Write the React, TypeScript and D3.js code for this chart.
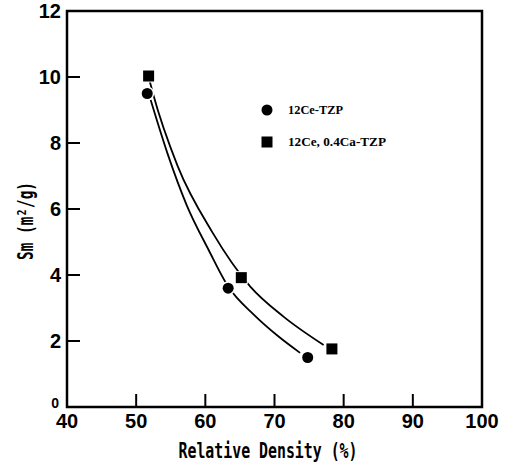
import React from 'react';
import * as d3 from 'd3';

// measured points
const ceDensity = [51.6, 63.3, 74.8];
const ceArea = [9.5, 3.6, 1.5];
const caDensity = [51.8, 65.2, 78.3];
const caArea = [10.03, 3.92, 1.76];

// fitted curves
const ceFitDensity = [52.1, 54.5, 57.3, 60.5, 63.3, 67.0, 70.5, 73.7];
const ceFitArea = [9.3, 7.7, 6.12, 4.75, 3.65, 2.8, 2.15, 1.64];
const caFitDensity = [51.8, 52.4, 56.0, 61.0, 66.5, 71.3, 77.1];
const caFitArea = [10.0, 9.52, 7.3, 5.3, 3.65, 2.74, 1.88];

const xTicks = [40, 50, 60, 70, 80, 90, 100];
const yTicks = [0, 2, 4, 6, 8, 10, 12];
const legendLabels = ['12Ce-TZP', '12Ce, 0.4Ca-TZP'];

const width = 505;
const height = 464;
const marginLeft = 67;
const marginRight = 23;
const marginTop = 11;
const marginBottom = 57;

export default function App() {
  const x = d3.scaleLinear().domain([40, 100]).range([marginLeft, width - marginRight]);
  const y = d3.scaleLinear().domain([0, 12]).range([height - marginBottom, marginTop]);

  const line = d3.line<[number, number]>()
    .x(d => x(d[0]))
    .y(d => y(d[1]))
    .curve(d3.curveMonotoneX);

  const ceFit = ceFitDensity.map((d, i) => [d, ceFitArea[i]] as [number, number]);
  const caFit = caFitDensity.map((d, i) => [d, caFitArea[i]] as [number, number]);

  const bottom = height - marginBottom;
  const tickFont = "'Liberation Sans', Arial, sans-serif";

  return (
    <svg width={width} height={height} style={{ position: 'absolute', left: 0, top: 0, background: '#fff' }}>
      {/* fitted curves */}
      <path d={line(ceFit) ?? ''} fill="none" stroke="#000" strokeWidth={1.8} />
      <path d={line(caFit) ?? ''} fill="none" stroke="#000" strokeWidth={1.8} />

      {/* markers with white halo to leave small gaps */}
      {ceDensity.map((d, i) => (
        <circle key={'c' + i} cx={x(d)} cy={y(ceArea[i])} r={5.5} fill="#000" stroke="#fff" strokeWidth={3} paintOrder="stroke" />
      ))}
      {caDensity.map((d, i) => (
        <rect key={'s' + i} x={x(d) - 5.5} y={y(caArea[i]) - 5.5} width={11} height={11} fill="#000" stroke="#fff" strokeWidth={2} paintOrder="stroke" />
      ))}

      {/* frame */}
      <rect x={marginLeft} y={marginTop} width={width - marginLeft - marginRight} height={bottom - marginTop}
        fill="none" stroke="#000" strokeWidth={2.5} />

      {/* x ticks */}
      {xTicks.map(t => (
        <g key={'x' + t}>
          {t > 40 && t < 100 && <line x1={x(t)} x2={x(t)} y1={bottom} y2={bottom - 13} stroke="#000" strokeWidth={2} />}
          <text x={x(t)} y={428} textAnchor="middle" fontFamily={tickFont} fontWeight="bold" fontSize={20}>{t}</text>
        </g>
      ))}

      {/* y ticks */}
      {yTicks.map(t => (
        <g key={'y' + t}>
          {t > 0 && t < 12 && <line x1={marginLeft} x2={marginLeft + 13} y1={y(t)} y2={y(t)} stroke="#000" strokeWidth={2} />}
          <text x={t === 0 ? 59 : 61} y={t === 0 ? 408 : y(t) + 7} textAnchor="end" fontFamily={tickFont} fontWeight="bold"
            fontSize={t === 0 ? 14 : 20}>{t}</text>
        </g>
      ))}

      {/* axis titles */}
      <text x={268} y={458} textAnchor="middle" fontFamily="'DejaVu Sans Mono', monospace" fontWeight="bold" fontSize={21}
        textLength={179} lengthAdjust="spacingAndGlyphs">Relative Density (%)</text>
      <text transform={`translate(33,221) rotate(-90)`} textAnchor="middle" fontFamily="'DejaVu Sans Mono', monospace" fontWeight="bold" fontSize={21}
        textLength={78} lengthAdjust="spacingAndGlyphs">Sm (m²/g)</text>

      {/* legend */}
      <circle cx={267} cy={110} r={5.5} fill="#000" />
      <text x={288} y={114} fontFamily="'Liberation Serif', serif" fontWeight="bold" fontSize={12}
        textLength={55} lengthAdjust="spacingAndGlyphs">{legendLabels[0]}</text>
      <rect x={261.5} y={136.5} width={11} height={11} fill="#000" />
      <text x={288} y={146} fontFamily="'Liberation Serif', serif" fontWeight="bold" fontSize={12}
        textLength={98} lengthAdjust="spacingAndGlyphs">{legendLabels[1]}</text>
    </svg>
  );
}
